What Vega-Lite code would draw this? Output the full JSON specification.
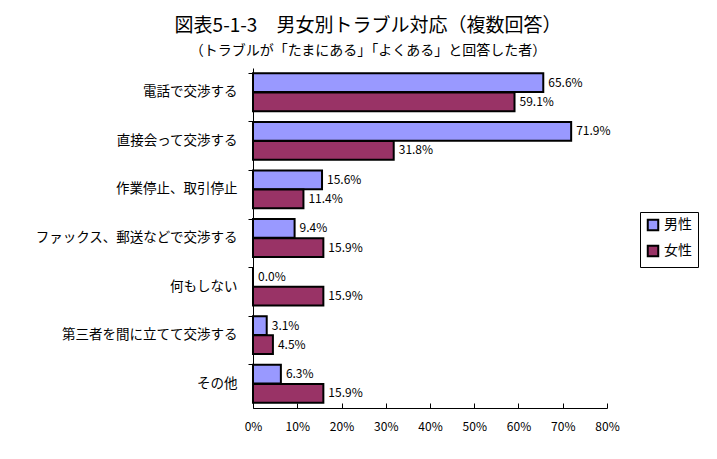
{
  "$schema": "https://vega.github.io/schema/vega-lite/v6.json",
  "autosize": "none",
  "width": 354,
  "height": 340,
  "padding": {"left": 253, "top": 68, "right": 110, "bottom": 51},
  "background": "white",
  "config": {
    "font": "Noto Sans CJK JP",
    "view": {"stroke": null},
    "axis": {"labelColor": "black", "domainColor": "black", "tickColor": "black", "grid": false, "labelFont": "Noto Sans CJK JP"}
  },
  "title": {
    "text": "図表5-1-3　男女別トラブル対応（複数回答）",
    "subtitle": "（トラブルが「たまにある」「よくある」と回答した者）",
    "anchor": "middle",
    "frame": "group",
    "dx": -62,
    "fontSize": 19,
    "fontWeight": "normal",
    "subtitleFontSize": 14,
    "subtitlePadding": 8,
    "color": "black",
    "subtitleColor": "black",
    "offset": 10
  },
  "data": {
    "values": [
      {"item": "電話で交渉する", "sex": "男性", "v": 0.656},
      {"item": "電話で交渉する", "sex": "女性", "v": 0.591},
      {"item": "直接会って交渉する", "sex": "男性", "v": 0.719},
      {"item": "直接会って交渉する", "sex": "女性", "v": 0.318},
      {"item": "作業停止、取引停止", "sex": "男性", "v": 0.156},
      {"item": "作業停止、取引停止", "sex": "女性", "v": 0.114},
      {"item": "ファックス、郵送などで交渉する", "sex": "男性", "v": 0.094},
      {"item": "ファックス、郵送などで交渉する", "sex": "女性", "v": 0.159},
      {"item": "何もしない", "sex": "男性", "v": 0.0},
      {"item": "何もしない", "sex": "女性", "v": 0.159},
      {"item": "第三者を間に立てて交渉する", "sex": "男性", "v": 0.031},
      {"item": "第三者を間に立てて交渉する", "sex": "女性", "v": 0.045},
      {"item": "その他", "sex": "男性", "v": 0.063},
      {"item": "その他", "sex": "女性", "v": 0.159}
    ]
  },
  "encoding": {
    "y": {
      "field": "item", "type": "nominal", "sort": null, "title": null,
      "scale": {"paddingInner": 0.22, "paddingOuter": 0.11},
      "axis": {"labelFontSize": 13.5, "labelPadding": 11, "labelLimit": 300, "tickSize": 5, "bandPosition": 0, "domainWidth": 1}
    },
    "yOffset": {"field": "sex", "type": "nominal", "sort": ["男性", "女性"], "scale": {"paddingInner": 0.02}},
    "x": {
      "field": "v", "type": "quantitative", "title": null,
      "scale": {"domain": [0, 0.8]},
      "axis": {"format": ".0%", "values": [0, 0.1, 0.2, 0.3, 0.4, 0.5, 0.6, 0.7, 0.8], "labelOverlap": false, "tickSize": -5, "labelPadding": 18, "labelFontSize": 12, "labelFlush": false}
    }
  },
  "layer": [
    {
      "mark": {"type": "bar", "stroke": "black", "strokeWidth": 2},
      "encoding": {
        "color": {
          "field": "sex", "type": "nominal", "sort": ["男性", "女性"],
          "scale": {"domain": ["男性", "女性"], "range": ["#9999FF", "#993366"]},
          "legend": {
            "title": null, "orient": "none", "legendX": 387, "legendY": 144,
            "strokeColor": "black", "padding": 6, "labelFontSize": 14, "labelColor": "black",
            "symbolType": "square", "symbolSize": 110, "symbolStrokeColor": "black", "symbolStrokeWidth": 2, "rowPadding": 6
          }
        }
      }
    },
    {
      "mark": {"type": "text", "align": "left", "dx": 5, "fontSize": 12, "color": "black"},
      "encoding": {"text": {"field": "v", "type": "quantitative", "format": ".1%"}}
    }
  ]
}
